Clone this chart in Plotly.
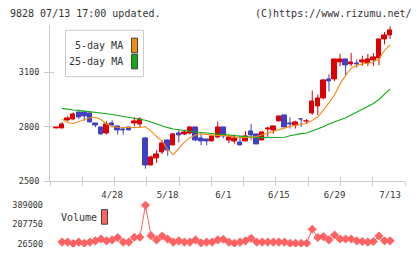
import plotly.graph_objects as go

# ---- data ----
idx = list(range(61))
tick_idx = [10, 20, 30, 40, 50, 60]
tick_labels = ["4/28", "5/18", "6/1", "6/15", "6/29", "7/13"]

opens = [2792, 2790, 2833, 2838, 2879, 2879, 2874, 2820, 2799, 2761,
         2820, 2803, 2788, 2797, 2816, 2811, 2736, 2587, 2623, 2659,
         2722, 2698, 2761, 2757, 2763, 2799, 2736, 2730, 2720, 2741,
         2799, 2725, 2720, 2712, 2720, 2776, 2757, 2725, 2784, 2779,
         2831, 2860, 2820, 2808, 2842, 2827, 2874, 2910, 2955, 3062,
         3062, 3156, 3170, 3145, 3148, 3152, 3147, 3166, 3175, 3283,
         3305]
highs = [2794, 2826, 2858, 2879, 2879, 2879, 2879, 2820, 2799, 2829,
         2835, 2803, 2797, 2797, 2852, 2852, 2745, 2641, 2671, 2727,
         2730, 2766, 2784, 2784, 2804, 2799, 2763, 2730, 2749, 2829,
         2799, 2757, 2757, 2749, 2776, 2815, 2757, 2776, 2799, 2806,
         2858, 2860, 2852, 2833, 2847, 2843, 2999, 2978, 3062, 3089,
         3170, 3201, 3170, 3206, 3170, 3191, 3201, 3206, 3283, 3322,
         3352]
lows = [2792, 2790, 2829, 2836, 2843, 2833, 2824, 2797, 2757, 2757,
        2797, 2757, 2757, 2781, 2802, 2793, 2569, 2587, 2601, 2650,
        2641, 2698, 2713, 2754, 2757, 2720, 2698, 2698, 2720, 2736,
        2736, 2709, 2707, 2698, 2720, 2727, 2704, 2725, 2744, 2761,
        2831, 2797, 2790, 2790, 2799, 2815, 2865, 2865, 2951, 2994,
        3051, 3134, 3080, 3134, 3125, 3134, 3134, 3134, 3139, 3254,
        3283]
closes = [2794, 2815, 2847, 2869, 2851, 2856, 2824, 2806, 2757, 2815,
          2808, 2781, 2781, 2781, 2829, 2838, 2587, 2632, 2646, 2707,
          2668, 2757, 2755, 2770, 2799, 2722, 2720, 2720, 2749, 2799,
          2749, 2739, 2736, 2698, 2749, 2752, 2704, 2770, 2789, 2803,
          2858, 2797, 2811, 2824, 2840, 2831, 2940, 2955, 3057, 3048,
          3170, 3170, 3139, 3156, 3143, 3166, 3170, 3182, 3283, 3301,
          3328]

ma5 = [None, 2842, 2822, 2818, 2830, 2840, 2850, 2852, 2840, 2815,
       2802, 2797, 2795, 2793, 2795, 2797, 2800, 2776, 2746, 2722,
       2675, 2646, 2680, 2715, 2740, 2755, 2761, 2757, 2752, 2752,
       2752, 2750, 2745, 2740, 2740, 2742, 2746, 2755, 2768, 2776,
       2786, 2795, 2802, 2808, 2812, 2818, 2835, 2855, 2890, 2935,
       2975, 3036, 3083, 3122, 3138, 3146, 3152, 3155, 3175, 3220,
       3251]
ma25 = [None, 2901, 2895, 2892, 2890, 2887, 2884, 2880, 2876, 2872,
        2867, 2862, 2857, 2852, 2847, 2842, 2836, 2826, 2815, 2803,
        2795, 2788, 2783, 2777, 2774, 2771, 2768, 2765, 2762, 2759,
        2755, 2752, 2748, 2745, 2742, 2740, 2740, 2740, 2740, 2740,
        2740, 2742, 2750, 2757, 2762, 2766, 2777, 2788, 2800, 2815,
        2826, 2838, 2850, 2865, 2880, 2896, 2912, 2928, 2950, 2980,
        3009]

volume = [None, 40000, 40000, 26500, 40000, 30000, 40000, 52000, 70000, 52000,
          61000, 83000, 40000, 40000, 86000, 86000, 389000, 101000, 61000, 98000,
          70000, 40000, 52000, 40000, 40000, 61000, 33000, 40000, 40000, 61000,
          67000, 40000, 30000, 40000, 52000, 76000, 40000, 40000, 40000, 40000,
          40000, 40000, 30000, 30000, 30000, 30000, 162000, 83000, 92000, 61000,
          107000, 70000, 70000, 70000, 52000, 46000, 40000, 46000, 98000, 52000,
          52000]
vol_ticks = [26500, 207750, 389000]
vol_tick_labels = ["26500", "207750", "389000"]
price_ticks = [2500, 2800, 3100]

# ---- styles ----
W, H = 420, 259
RED = "#dd0000"
BLUE = "#4040c0"
ORANGE = "#f08c14"
GREEN = "#14aa14"
PINK = "#ff6262"
GRID = "#cccccc"
TXT = "#333333"
FONT = "DejaVu Sans Mono"

XL, XR = 50, 405
x_lo, x_hi = -1.17, 62.68
main_top, main_bot = 25, 184.5
vol_top, vol_bot = 205, 252
y_lo, y_hi = 2500, 3358


def px(v):
    return v / W


def py(v):
    return (H - v) / H


up = [c >= o for o, c in zip(opens, closes)]
body_base = [min(o, c) for o, c in zip(opens, closes)]
body_h = [abs(c - o) for o, c in zip(opens, closes)]
body_col = [RED if u else BLUE for u in up]


def wick_xy(want_up):
    xs, ys = [], []
    for i, u in enumerate(up):
        if u == want_up:
            xs += [idx[i], idx[i], None]
            ys += [lows[i], highs[i], None]
    return xs, ys


fig = go.Figure()

fig.add_trace(go.Bar(x=idx, y=body_h, base=body_base, width=0.8,
                     marker=dict(color=body_col, line=dict(color=body_col, width=1)),
                     xaxis="x", yaxis="y", showlegend=False, hoverinfo="skip"))
for want, col in [(True, RED), (False, BLUE)]:
    wx, wy = wick_xy(want)
    fig.add_trace(go.Scatter(x=wx, y=wy, mode="lines", line=dict(color=col, width=1),
                             xaxis="x", yaxis="y", showlegend=False, hoverinfo="skip"))

fig.add_trace(go.Scatter(x=idx, y=ma25, mode="lines",
                         line=dict(color=GREEN, width=1.1), xaxis="x3", yaxis="y3",
                         showlegend=False, hoverinfo="skip"))
fig.add_trace(go.Scatter(x=idx, y=ma5, mode="lines",
                         line=dict(color=ORANGE, width=1.1), xaxis="x3", yaxis="y3",
                         showlegend=False, hoverinfo="skip"))

fig.add_trace(go.Scatter(x=idx, y=volume, mode="lines+markers",
                         line=dict(color=PINK, width=1),
                         marker=dict(symbol="diamond", size=7, color=PINK),
                         xaxis="x4", yaxis="y4", showlegend=False, hoverinfo="skip"))

xdom = [px(XL), px(XR)]
ydom = [py(main_bot), py(main_top)]
dtick = (x_hi - x_lo) / 11

common_x = dict(domain=xdom, range=[x_lo, x_hi], showgrid=False, zeroline=False,
                fixedrange=True)

fig.update_layout(
    width=W, height=H, margin=dict(l=0, r=0, t=0, b=0),
    paper_bgcolor="white", plot_bgcolor="white",
    barmode="overlay", bargap=0,
    xaxis=dict(**common_x, anchor="y", tickmode="linear", tick0=x_lo, dtick=dtick,
               ticks="outside", ticklen=4, tickcolor=GRID, showticklabels=False,
               showline=True, linecolor=GRID, linewidth=1),
    yaxis=dict(domain=ydom, range=[y_lo, y_hi], anchor="x",
               tickmode="array", tickvals=price_ticks, ticks="outside", ticklen=5,
               tickcolor=GRID, showline=True, linecolor=GRID, linewidth=1,
               showgrid=False, zeroline=False,
               tickfont=dict(family=FONT, size=8.5, color=TXT), ticklabelstandoff=3),
    xaxis3=dict(**common_x, anchor="y3", overlaying="x", tickmode="linear", tick0=x_lo,
                dtick=dtick, ticks="inside", ticklen=4, tickcolor=GRID,
                showticklabels=False, showline=False),
    yaxis3=dict(domain=ydom, range=[y_lo, y_hi], anchor="x3",
                overlaying="y", tickmode="array", tickvals=price_ticks, ticks="inside",
                ticklen=4, tickcolor=GRID, showticklabels=False, showline=False,
                showgrid=False, zeroline=False),
    xaxis4=dict(**common_x, anchor="y4", side="top", tickmode="array",
                tickvals=tick_idx, ticktext=tick_labels, ticks="", showline=False,
                tickfont=dict(family=FONT, size=9, color=TXT), ticklabelstandoff=0),
    yaxis4=dict(domain=[py(vol_bot), py(vol_top)], range=[-7630, 425900], anchor="x4",
                tickmode="array", tickvals=vol_ticks, ticktext=vol_tick_labels,
                ticks="", showline=False, showgrid=False, zeroline=False,
                tickfont=dict(family=FONT, size=8.5, color=TXT), ticklabelstandoff=6),
)

shapes = []
annotations = []
annotations.append(dict(text="9828 07/13 17:00 updated.", xref="paper", yref="paper",
                        x=px(8), y=py(13), xanchor="left", yanchor="middle", showarrow=False,
                        font=dict(family=FONT, size=10, color=TXT)))
annotations.append(dict(text="(C)https://www.rizumu.net/", xref="paper", yref="paper",
                        x=px(414), y=py(13), xanchor="right", yanchor="middle", showarrow=False,
                        font=dict(family=FONT, size=10, color=TXT)))
shapes.append(dict(type="rect", xref="paper", yref="paper", x0=px(65.5), x1=px(143.5),
                   y0=py(77.5), y1=py(30), line=dict(color=GRID, width=1), fillcolor="white",
                   layer="below"))
for label, col, yc in [("5-day MA", ORANGE, 45.5), ("25-day MA", GREEN, 62)]:
    annotations.append(dict(text=label, xref="paper", yref="paper", x=px(125), y=py(yc),
                            xanchor="right", yanchor="middle", showarrow=False,
                            font=dict(family=FONT, size=10, color=TXT)))
    shapes.append(dict(type="rect", xref="paper", yref="paper", x0=px(131.5), x1=px(137.5),
                       y0=py(yc + 7.5), y1=py(yc - 7.5), line=dict(color="#444444", width=1),
                       fillcolor=col))
annotations.append(dict(text="Volume", xref="paper", yref="paper", x=px(59), y=py(222),
                        xanchor="left", yanchor="middle", showarrow=False,
                        font=dict(family=FONT, size=10, color=TXT)))
shapes.append(dict(type="rect", xref="paper", yref="paper", x0=px(101.5), x1=px(107.5),
                   y0=py(228.5), y1=py(213.5), line=dict(color="#444444", width=1),
                   fillcolor=PINK))

fig.update_layout(shapes=shapes, annotations=annotations)

fig.write_html("out.html")
